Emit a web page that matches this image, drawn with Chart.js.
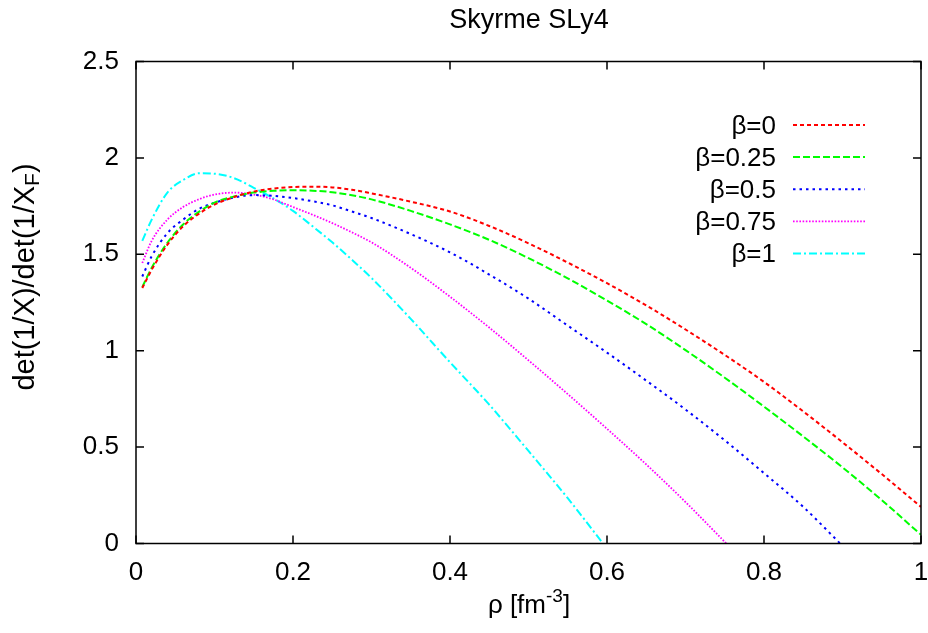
<!DOCTYPE html>
<html>
<head>
<meta charset="utf-8">
<script src="https://cdn.jsdelivr.net/npm/chart.js@4/dist/chart.umd.min.js"></script>
<style>
html,body{margin:0;padding:0;background:#fff;}
#wrap{width:928px;height:633px;}
</style>
</head>
<body>
<div id="wrap"><canvas id="c" width="928" height="633"></canvas></div>
<script>
// ---- data ----
const rho = [0.008,0.02,0.04,0.06,0.08,0.1,0.125,0.15,0.175,0.2,0.225,0.25,0.275,0.3,0.35,0.4,0.45,0.5,0.55,0.6,0.65,0.7,0.75,0.8,0.85,0.9,0.95,1.0];
const beta0    = [1.325,1.42,1.55,1.645,1.71,1.758,1.797,1.825,1.841,1.849,1.851,1.847,1.835,1.816,1.773,1.722,1.647,1.557,1.457,1.35,1.235,1.11,0.978,0.838,0.685,0.525,0.36,0.19];
const beta025  = [1.33,1.43,1.56,1.655,1.72,1.768,1.80,1.82,1.829,1.832,1.83,1.822,1.806,1.785,1.725,1.655,1.575,1.48,1.375,1.26,1.138,1.003,0.86,0.71,0.555,0.395,0.225,0.045];
const beta05   = [1.385,1.49,1.61,1.68,1.735,1.767,1.795,1.807,1.803,1.792,1.775,1.754,1.722,1.688,1.605,1.51,1.395,1.27,1.13,0.99,0.845,0.695,0.535,0.365,0.19,null,null,null];
const beta075  = [1.455,1.57,1.68,1.745,1.785,1.81,1.82,1.81,1.785,1.745,1.705,1.662,1.614,1.562,1.43,1.28,1.12,0.95,0.775,0.595,0.41,0.215,null,null,null,null,null,null];
const beta1    = [1.57,1.68,1.82,1.885,1.92,1.918,1.895,1.845,1.79,1.725,1.645,1.562,1.472,1.377,1.165,0.94,0.72,0.48,0.235,null,null,null,null,null,null,null,null,null];
// density where each curve reaches zero (null = stays above zero)
const rhoZero  = [null,null,0.897,0.752,0.595];
const seriesNames = ['β=0','β=0.25','β=0.5','β=0.75','β=1'];
const seriesValues = [beta0,beta025,beta05,beta075,beta1];
const xTickValues = [0,0.2,0.4,0.6,0.8,1];
const xTickLabels = ['0','0.2','0.4','0.6','0.8','1'];
const yTickValues = [0,0.5,1,1.5,2,2.5];
const yTickLabels = ['0','0.5','1','1.5','2','2.5'];
const chartTitle = 'Skyrme SLy4';

// ---- styles ----
const colors = ['#ff0000','#00ff00','#0000ff','#ff00ff','#00ffff'];
const dashes = [[4,3],[7,3],[2.5,4],[1.6,1.6],[8,3,2,3]];
const widths = [2,2,2,1.8,2];
const FONT = '"Liberation Sans", Arial, Helvetica, sans-serif';

function buildPoints(vals, zero){
  const pts = [];
  vals.forEach((v,i)=>{ if(v!==null) pts.push({x:rho[i], y:v}); });
  if(zero!==null) pts.push({x:zero, y:0});
  return pts;
}

const datasets = seriesNames.map((name,i)=>({
  label: name,
  data: buildPoints(seriesValues[i], rhoZero[i]),
  borderColor: colors[i],
  backgroundColor: colors[i],
  borderDash: dashes[i],
  borderWidth: widths[i],
  pointRadius: 0,
  fill: false,
  cubicInterpolationMode: 'monotone',
  borderCapStyle: 'butt'
}));

const decor = {
  id: 'decor',
  afterDatasetsDraw(chart){
    const {ctx, chartArea:a, scales:{x,y}} = chart;
    ctx.save();
    // frame
    ctx.strokeStyle = '#000';
    ctx.lineWidth = 1.5;
    ctx.setLineDash([]);
    ctx.strokeRect(a.left, a.top, a.right-a.left, a.bottom-a.top);
    // inward ticks, mirrored
    const L = 8;
    ctx.beginPath();
    yTickValues.forEach(v=>{
      const p = y.getPixelForValue(v);
      ctx.moveTo(a.left,p); ctx.lineTo(a.left+L,p);
      ctx.moveTo(a.right,p); ctx.lineTo(a.right-L,p);
    });
    xTickValues.forEach(v=>{
      const p = x.getPixelForValue(v);
      ctx.moveTo(p,a.bottom); ctx.lineTo(p,a.bottom-L);
      ctx.moveTo(p,a.top); ctx.lineTo(p,a.top+L);
    });
    ctx.stroke();

    // title
    ctx.fillStyle = '#000';
    ctx.font = '27px ' + FONT;
    ctx.textAlign = 'center';
    ctx.textBaseline = 'alphabetic';
    ctx.fillText(chartTitle, 529, 28);

    // legend (text right-aligned, sample on the right)
    const textRight = 776, lx0 = 793, lx1 = 865;
    chart.data.datasets.forEach((ds,i)=>{
      const cy = 125 + 32.1*i;
      ctx.setLineDash([]);
      ctx.fillStyle = '#000';
      ctx.font = '26px ' + FONT;
      ctx.textAlign = 'right';
      ctx.textBaseline = 'alphabetic';
      ctx.fillText(ds.label, textRight, cy + 8.5);
      ctx.strokeStyle = ds.borderColor;
      ctx.lineWidth = ds.borderWidth;
      ctx.setLineDash(ds.borderDash);
      ctx.beginPath();
      ctx.moveTo(lx0, cy); ctx.lineTo(lx1, cy);
      ctx.stroke();
    });
    ctx.setLineDash([]);

    // x axis title: rho [fm^-3]
    ctx.fillStyle = '#000';
    ctx.textAlign = 'left';
    ctx.textBaseline = 'alphabetic';
    const big = '26px ' + FONT, small = '19px ' + FONT;
    ctx.font = big; const w1 = ctx.measureText('ρ [fm').width;
    ctx.font = small; const w2 = ctx.measureText('-3').width;
    ctx.font = big; const w3 = ctx.measureText(']').width;
    let sx = 529 - (w1+w2+w3)/2;
    const by = 613;
    ctx.font = big; ctx.fillText('ρ [fm', sx, by); sx += w1;
    ctx.font = small; ctx.fillText('-3', sx, by-11); sx += w2;
    ctx.font = big; ctx.fillText(']', sx, by);

    // y axis title: det(1/X)/det(1/X_F)
    const ybig = '29px ' + FONT, ysmall = '21px ' + FONT;
    ctx.translate(34, 277);
    ctx.rotate(-Math.PI/2);
    ctx.font = ybig; const m1 = ctx.measureText('det(1/X)/det(1/X').width;
    ctx.font = ysmall; const m2 = ctx.measureText('F').width;
    ctx.font = ybig; const m3 = ctx.measureText(')').width;
    let tx = -(m1+m2+m3)/2;
    ctx.font = ybig; ctx.fillText('det(1/X)/det(1/X', tx, 0); tx += m1;
    ctx.font = ysmall; ctx.fillText('F', tx, 5); tx += m2;
    ctx.font = ybig; ctx.fillText(')', tx, 0);
    ctx.restore();
  }
};

new Chart(document.getElementById('c'), {
  type: 'line',
  data: { datasets },
  options: {
    responsive: false,
    animation: false,
    parsing: false,
    normalized: true,
    layout: { padding: { top: 61.5, right: 7, left: 0, bottom: 0 } },
    plugins: { legend: { display: false }, title: { display: false }, tooltip: { enabled: false } },
    scales: {
      x: {
        type: 'linear', min: 0, max: 1,
        grid: { display: false, drawTicks: false },
        border: { display: false },
        ticks: { stepSize: 0.2, color: '#000', padding: 14, maxRotation: 0, autoSkip: false,
                 font: { family: FONT, size: 26 },
                 callback: (v, i) => xTickLabels[i] },
        afterFit: s => { s.height = 89.5; s.paddingLeft = 0; s.paddingRight = 0; }
      },
      y: {
        type: 'linear', min: 0, max: 2.5,
        grid: { display: false, drawTicks: false },
        border: { display: false },
        ticks: { stepSize: 0.5, color: '#000', padding: 17, autoSkip: false,
                 font: { family: FONT, size: 26 },
                 callback: (v, i) => yTickLabels[i] },
        afterFit: s => { s.width = 136; s.paddingTop = 0; s.paddingBottom = 0; }
      }
    }
  },
  plugins: [decor]
});
</script>
</body>
</html>
